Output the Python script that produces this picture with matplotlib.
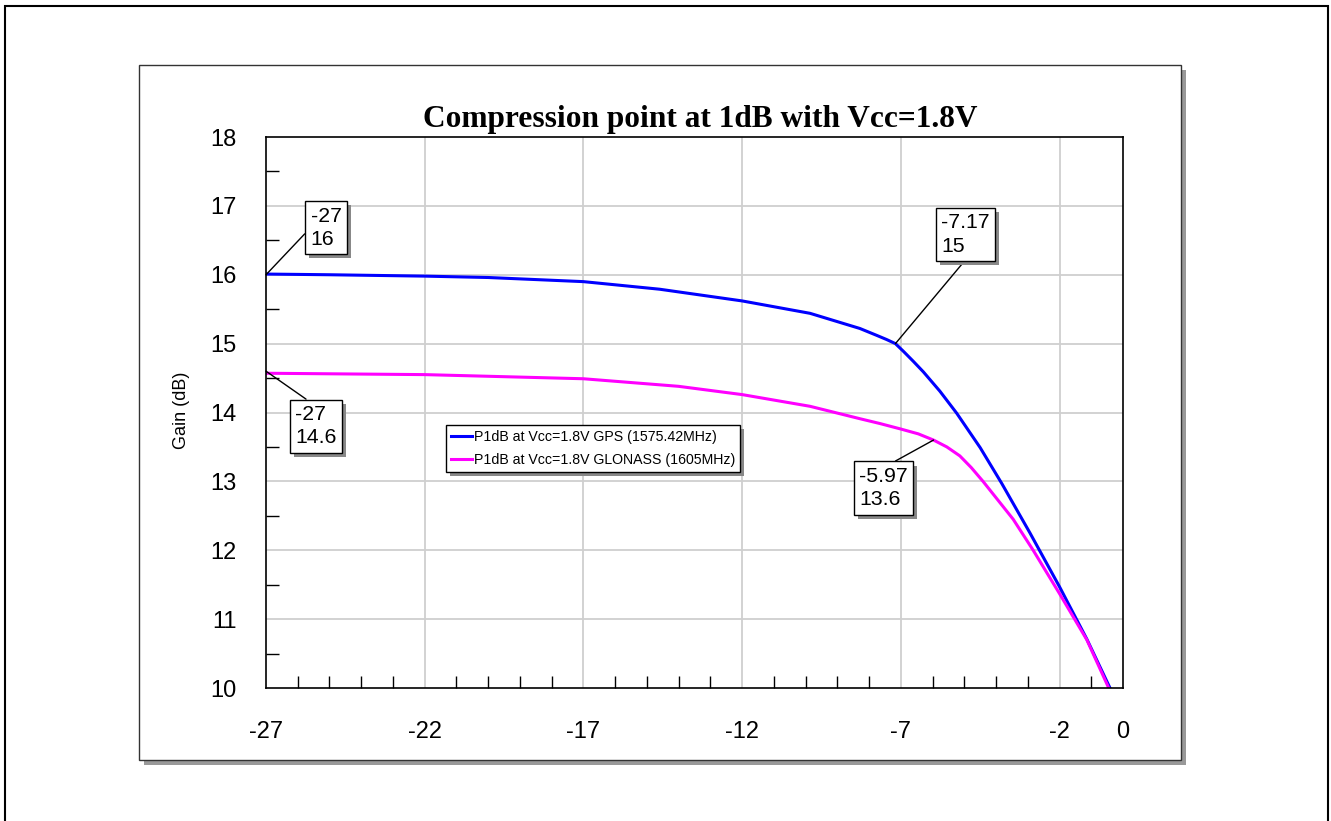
import matplotlib
matplotlib.use("Agg")
import matplotlib.pyplot as plt
import matplotlib.patheffects as pe
from matplotlib.patches import Rectangle
from matplotlib.ticker import MultipleLocator, FixedLocator

plt.rcParams["axes.unicode_minus"] = False

W, H = 1331, 821

# --- data ---
gps_x = [-27, -25, -22, -20, -17, -14.6, -12, -9.86, -8.29, -7.76, -7.45, -7.17,
         -6.9, -6.6, -6.29, -5.77, -5.24, -4.5, -3.82, -2.93, -2.0, -1.14, -0.41]
gps_y = [16.01, 16.0, 15.98, 15.96, 15.90, 15.79, 15.62, 15.44, 15.22, 15.12, 15.06, 15.0,
         14.88, 14.74, 14.59, 14.31, 13.99, 13.49, 12.97, 12.25, 11.47, 10.71, 10.0]

glonass_x = [-27, -22, -17, -14, -12, -9.86, -8.29, -7.66, -7.0, -6.45, -5.97, -5.55,
             -5.14, -4.78, -4.41, -3.46, -2.83, -2.0, -1.14, -0.45]
glonass_y = [14.57, 14.55, 14.49, 14.38, 14.26, 14.09, 13.91, 13.84, 13.76, 13.69, 13.6, 13.5,
             13.37, 13.2, 13.0, 12.45, 12.0, 11.37, 10.7, 10.0]

series_labels = ["P1dB at Vcc=1.8V GPS (1575.42MHz)",
                 "P1dB at Vcc=1.8V GLONASS (1605MHz)"]

# marker points (x, y) shown in callout boxes
markers = [(-27, 16), (-27, 14.6), (-7.17, 15), (-5.97, 13.6)]

x_ticks = [-27, -22, -17, -12, -7, -2, 0]
y_ticks = [10, 11, 12, 13, 14, 15, 16, 17, 18]

title = "Compression point at 1dB with Vcc=1.8V"
ylabel = "Gain (dB)"


def fx(px):
    return px / W


def fy(py):
    return 1 - py / H


fig = plt.figure(figsize=(W / 100, H / 100), dpi=100)
fig.patch.set_facecolor("white")

# outer frame
fig.add_artist(Rectangle((fx(4.5), fy(830)), fx(1327.5) - fx(4.5), fy(6.5) - fy(830),
                         transform=fig.transFigure, fill=False, ec="black", lw=1.5, zorder=-3))
# inner panel with shadow
fig.add_artist(Rectangle((fx(143.5), fy(764.5)), fx(1185.5) - fx(143.5), fy(70) - fy(764.5),
                         transform=fig.transFigure, fc="#999999", ec="none", zorder=-2))
fig.add_artist(Rectangle((fx(138.5), fy(759.5)), fx(1180.5) - fx(138.5), fy(65) - fy(759.5),
                         transform=fig.transFigure, fc="white", ec="#333333", lw=1.0, zorder=-1))

ax = fig.add_axes([fx(266), fy(688), fx(1123) - fx(266), fy(137) - fy(688)])
ax.set_xlim(-27, 0)
ax.set_ylim(10, 18)

ax.plot(gps_x, gps_y, color="#0000ff", lw=2.2, label=series_labels[0], zorder=3)
ax.plot(glonass_x, glonass_y, color="#ff00ff", lw=2.2, label=series_labels[1], zorder=3)

# ticks and grid
ax.xaxis.set_major_locator(FixedLocator(x_ticks))
ax.xaxis.set_minor_locator(MultipleLocator(1))
ax.yaxis.set_major_locator(FixedLocator(y_ticks))
ax.yaxis.set_minor_locator(MultipleLocator(0.5))
ax.tick_params(which="major", length=0)
ax.tick_params(axis="x", which="major", pad=24, labelsize=17)
ax.tick_params(axis="y", which="major", pad=21, labelsize=17)
ax.tick_params(which="minor", direction="in", length=9, width=1, color="black")
for t in ax.xaxis.get_major_ticks() + ax.yaxis.get_major_ticks():
    t.label1.set_fontfamily("Liberation Sans")
for t in ax.yaxis.get_major_ticks():
    t.label1.set_verticalalignment("center_baseline")

for gx in x_ticks:
    if -27 < gx < 0:
        ax.axvline(gx, color="#cfcfcf", lw=1.3, zorder=1)
for gy in y_ticks:
    if 10 < gy < 18:
        ax.axhline(gy, color="#cfcfcf", lw=1.3, zorder=1)

for s in ax.spines.values():
    s.set_color("black")
    s.set_linewidth(1.2)
    s.set_zorder(4)

# legend
leg = ax.legend(loc="upper left", bbox_to_anchor=(0.21, 0.477), borderaxespad=0,
                fancybox=False, edgecolor="black", framealpha=1,
                prop={"family": "Liberation Sans", "size": 10.2},
                handlelength=1.5, handletextpad=0.1, borderpad=0.35, labelspacing=0.6)
leg.get_frame().set_linewidth(1.0)
leg.get_frame().set_path_effects([pe.withSimplePatchShadow(offset=(3, -3),
                                                           shadow_rgbFace="#888888", alpha=1)])

# callout boxes (offsets in pixels, relpos = where leader line attaches)
callout_layout = [((60, 47), (0.0, 0.5)),
                  ((50, -55), (0.46, 1.0)),
                  ((70, 109), (0.57, 0.0)),
                  ((-50, -48), (0.53, 1.0))]
for (mx, my), (off, rel) in zip(markers, callout_layout):
    ann = ax.annotate(f"{mx:g}\n{my:g}", xy=(mx, my), xytext=off, textcoords="offset pixels",
                      ha="center", va="center", multialignment="left",
                      fontsize=15.3, family="Liberation Sans", linespacing=1.3,
                      bbox=dict(boxstyle="square,pad=0.25", fc="white", ec="black", lw=1.0),
                      arrowprops=dict(arrowstyle="-", color="black", lw=1.0,
                                      shrinkA=0, shrinkB=0, relpos=rel),
                      zorder=5, annotation_clip=False)
    ann.get_bbox_patch().set_path_effects([pe.withSimplePatchShadow(offset=(3, -3),
                                                                    shadow_rgbFace="#888888",
                                                                    alpha=1)])

fig.text(fx(700), fy(119), title, ha="center", va="center",
         family="Liberation Serif", fontweight="bold", fontsize=22.6)
fig.text(fx(181), fy(410), ylabel, ha="center", va="center", rotation=90,
         family="Liberation Sans", fontsize=13)

fig.savefig("out.png", dpi=100)
